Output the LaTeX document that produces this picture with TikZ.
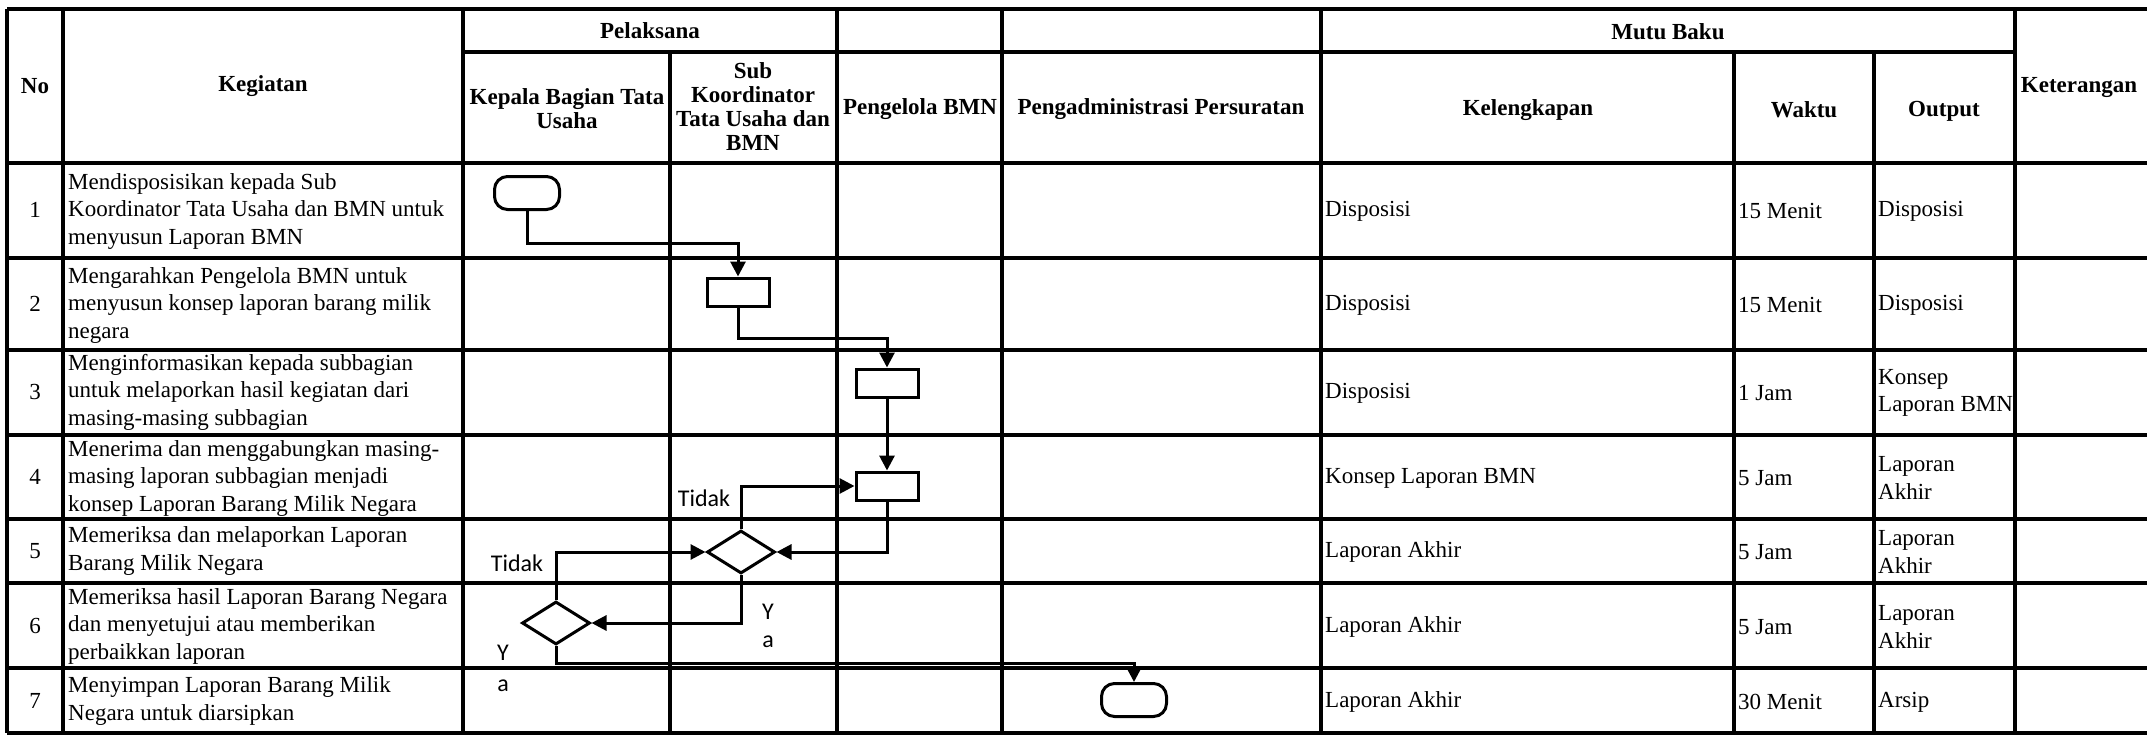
\documentclass[tikz,border=0pt]{standalone}
\usepackage{fontspec}
\setmainfont{Liberation Serif}
\newfontfamily\lblfont{Carlito}
\usetikzlibrary{shapes.geometric,arrows.meta}
\begin{document}
\begin{tikzpicture}[x=1pt,y=-1pt,
  grid/.style={line width=3.2pt},
  hdr/.style={font=\fontsize{23}{24}\selectfont\bfseries, align=center, inner sep=0pt},
  body/.style={font=\fontsize{23}{27.5}\selectfont, align=left, anchor=west, inner sep=0pt},
  num/.style={font=\fontsize{23}{27.5}\selectfont, inner sep=0pt},
  lbl/.style={font=\lblfont\fontsize{24}{26}\selectfont, inner sep=0pt},
  term/.style={draw, line width=3pt, rounded corners=13pt, minimum width=65pt, minimum height=33pt, inner sep=0pt},
  proc/.style={draw, line width=3pt, minimum width=62pt, minimum height=28pt, inner sep=0pt},
  dec/.style={draw, diamond, line width=3pt, minimum width=68pt, minimum height=43pt, inner sep=0pt},
  flow/.style={line width=3pt, -{Triangle[length=15pt,width=15pt]}}
]
\useasboundingbox (0,0) rectangle (2147,734);
\fill[white] (0,0) rectangle (2147,734);

% ---------- table grid ----------
% horizontal lines
\draw[grid] (7,9) -- (2147,9);
\draw[grid] (463,52) -- (2015,52);
\draw[grid] (7,163) -- (2147,163);
\foreach \yy in {258,350,435,519,583,668} \draw[grid] (7,\yy) -- (2147,\yy);
\draw[grid] (7,733) -- (2147,733);
% vertical lines (full height)
\foreach \xx in {7,63,463,837,1002,1321,2015} \draw[grid] (\xx,9) -- (\xx,733);
% vertical lines (below sub-header line)
\foreach \xx in {670,1734,1874} \draw[grid] (\xx,52) -- (\xx,733);

% ---------- header ----------
\node[hdr] (hNo)   at (35,86)   {No};
\node[hdr] (hKeg)  at (263,86)  {Kegiatan};
\node[hdr] (hPel)  at (650,31)  {Pelaksana};
\node[hdr] (hKep)  at (567,109) {Kepala Bagian Tata\\Usaha};
\node[hdr] (hSub)  at (753,107) {Sub\\Koordinator\\Tata Usaha dan\\BMN};
\node[hdr] (hPBMN) at (920,109) {Pengelola BMN};
\node[hdr] (hPadm) at (1161,109) {Pengadministrasi Persuratan};
\node[hdr] (hMutu) at (1668,32) {Mutu Baku};
\node[hdr] (hKel)  at (1528,110) {Kelengkapan};
\node[hdr] (hWak)  at (1804,110) {Waktu};
\node[hdr] (hOut)  at (1944,111) {Output};
\node[hdr] (hKet)  at (2079,88) {Keterangan};

% ---------- numbers ----------
\node[num] (n1) at (35,210) {1};
\node[num] (n2) at (35,304) {2};
\node[num] (n3) at (35,392) {3};
\node[num] (n4) at (35,477) {4};
\node[num] (n5) at (35,551) {5};
\node[num] (n6) at (35,626) {6};
\node[num] (n7) at (35,701) {7};

% ---------- kegiatan ----------
\node[body] (k1) at (68,211) {Mendisposisikan kepada Sub\\Koordinator Tata Usaha dan BMN untuk\\menyusun Laporan BMN};
\node[body] (k2) at (68,305) {Mengarahkan Pengelola BMN untuk\\menyusun konsep laporan barang milik\\negara};
\node[body] (k3) at (68,392) {Menginformasikan kepada subbagian\\untuk melaporkan hasil kegiatan dari\\masing-masing subbagian};
\node[body] (k4) at (68,478) {Menerima dan menggabungkan masing-\\masing laporan subbagian menjadi\\konsep Laporan Barang Milik Negara};
\node[body] (k5) at (68,551) {Memeriksa dan melaporkan Laporan\\Barang Milik Negara};
\node[body] (k6) at (68,626) {Memeriksa hasil Laporan Barang Negara\\dan menyetujui atau memberikan\\perbaikkan laporan};
\node[body] (k7) at (68,701) {Menyimpan Laporan Barang Milik\\Negara untuk diarsipkan};

% ---------- mutu baku ----------
\node[body] (l1) at (1325,211) {Disposisi};
\node[body] (l2) at (1325,305) {Disposisi};
\node[body] (l3) at (1325,393) {Disposisi};
\node[body] (l4) at (1325,478) {Konsep Laporan BMN};
\node[body] (l5) at (1325,552) {Laporan Akhir};
\node[body] (l6) at (1325,627) {Laporan Akhir};
\node[body] (l7) at (1325,702) {Laporan Akhir};

\node[body] (w1) at (1738,211) {15 Menit};
\node[body] (w2) at (1738,305) {15 Menit};
\node[body] (w3) at (1738,393) {1 Jam};
\node[body] (w4) at (1738,478) {5 Jam};
\node[body] (w5) at (1738,552) {5 Jam};
\node[body] (w6) at (1738,627) {5 Jam};
\node[body] (w7) at (1738,702) {30 Menit};

\node[body] (o1) at (1878,211) {Disposisi};
\node[body] (o2) at (1878,305) {Disposisi};
\node[body] (o3) at (1878,393) {Konsep\\Laporan BMN};
\node[body] (o4) at (1878,478) {Laporan\\Akhir};
\node[body] (o5) at (1878,552) {Laporan\\Akhir};
\node[body] (o6) at (1878,627) {Laporan\\Akhir};
\node[body] (o7) at (1878,702) {Arsip};

% ---------- flowchart ----------
\node[term] (t1) at (527,193) {};
\node[proc] (p2) at (738,292) {};
\node[proc] (p3) at (887,383) {};
\node[proc] (p4) at (887,486) {};
\node[dec]  (d1) at (741,552) {};
\node[dec]  (d2) at (556,623) {};
\node[term] (t2) at (1134,700) {};

\coordinate (b1) at (0,243);
\coordinate (b2) at (0,338);
\coordinate (b3) at (0,663);

\draw[flow] (t1.south) -- (t1.south |- b1) -| (p2.north);
\draw[flow] (p2.south) -- (p2.south |- b2) -| (p3.north);
\draw[flow] (p3.south) -- (p4.north);
\draw[flow] (p4.south) |- (d1.east);
\draw[flow] (d1.north) |- (p4.west);
\draw[flow] (d1.south) |- (d2.east);
\draw[flow] (d2.north) |- (d1.west);
\draw[flow] (d2.south) -- (d2.south |- b3) -| (t2.north);

% ---------- labels ----------
\node[lbl] (tid1) at (704,498) {Tidak};
\node[lbl] (tid2) at (517,563) {Tidak};
\node[lbl] (ya1y) at (768,612) {Y};
\node[lbl] (ya1a) at (768,642) {a};
\node[lbl] (ya2y) at (503,653) {Y};
\node[lbl] (ya2a) at (503,686) {a};
\end{tikzpicture}
\end{document}
